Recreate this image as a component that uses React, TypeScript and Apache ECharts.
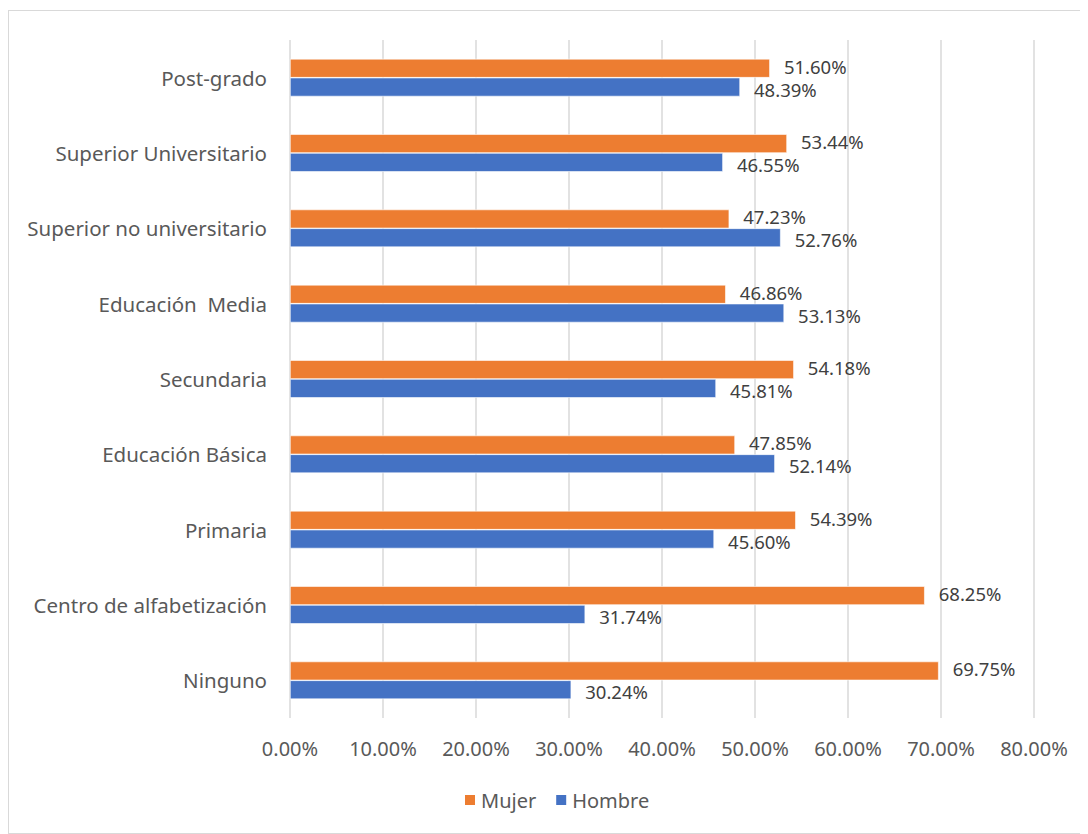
import React, { useEffect, useRef } from "react";
import * as echarts from "echarts";

const categories = [
  "Ninguno",
  "Centro de alfabetización",
  "Primaria",
  "Educación Básica",
  "Secundaria",
  "Educación  Media",
  "Superior no universitario",
  "Superior Universitario",
  "Post-grado",
];
const mujer = [69.75, 68.25, 54.39, 47.85, 54.18, 46.86, 47.23, 53.44, 51.6];
const hombre = [30.24, 31.74, 45.6, 52.14, 45.81, 53.13, 52.76, 46.55, 48.39];
const xTicks = { min: 0, max: 80, interval: 10 };

const FONT = "Noto Sans";

export default function App() {
  const ref = useRef<HTMLDivElement>(null);
  useEffect(() => {
    if (!ref.current) return;
    const chart = echarts.init(ref.current, undefined, { renderer: "svg" });
    const makeLabel = (dy: number) => ({
      show: true,
      position: "right" as const,
      distance: 14,
      offset: [0, dy],
      color: "#404040",
      fontSize: 18.5,
      lineHeight: 18,
      fontFamily: FONT,
      formatter: (p: any) => p.value.toFixed(2) + "%",
    });
    chart.setOption({
      animation: false,
      textStyle: { fontFamily: FONT },
      grid: { left: 281, right: 53, top: 29, bottom: 115, containLabel: false },
      legend: {
        data: ["Mujer", "Hombre"],
        bottom: 18,
        left: 449,
        itemWidth: 12,
        itemHeight: 12,
        itemGap: 18,
        icon: "rect",
        textStyle: { color: "#595959", fontSize: 20, fontFamily: FONT },
      },
      xAxis: {
        type: "value",
        min: xTicks.min,
        max: xTicks.max,
        interval: xTicks.interval,
        axisLine: { show: false },
        axisTick: { show: false },
        splitLine: { lineStyle: { color: "#d9d9d9", width: 1.5 } },
        axisLabel: {
          color: "#595959",
          fontSize: 20,
          fontFamily: FONT,
          margin: 20,
          formatter: (v: number) => v.toFixed(2) + "%",
        },
      },
      yAxis: {
        type: "category",
        data: categories,
        axisLine: { show: false },
        axisTick: { show: false },
        axisLabel: { color: "#595959", fontSize: 20.5, fontFamily: FONT, margin: 23 },
      },
      series: [
        {
          name: "Mujer",
          type: "bar",
          data: mujer,
          barGap: "0%",
          barCategoryGap: "50%",
          itemStyle: { color: "#ED7D31", borderColor: "#ffffff", borderWidth: 0.6 },
          label: makeLabel(-2),
        },
        {
          name: "Hombre",
          type: "bar",
          data: hombre,
          barGap: "0%",
          barCategoryGap: "50%",
          itemStyle: { color: "#4472C4", borderColor: "#ffffff", borderWidth: 0.6 },
          label: makeLabel(2),
        },
      ],
    });
    return () => chart.dispose();
  }, []);
  return (
    <div
      style={{
        marginTop: 2,
        width: 1080,
        height: 824,
        border: "1px solid #d9d9d9",
        boxSizing: "border-box",
        background: "#fff",
      }}
    >
      <div ref={ref} style={{ width: 1078, height: 822 }} />
    </div>
  );
}
